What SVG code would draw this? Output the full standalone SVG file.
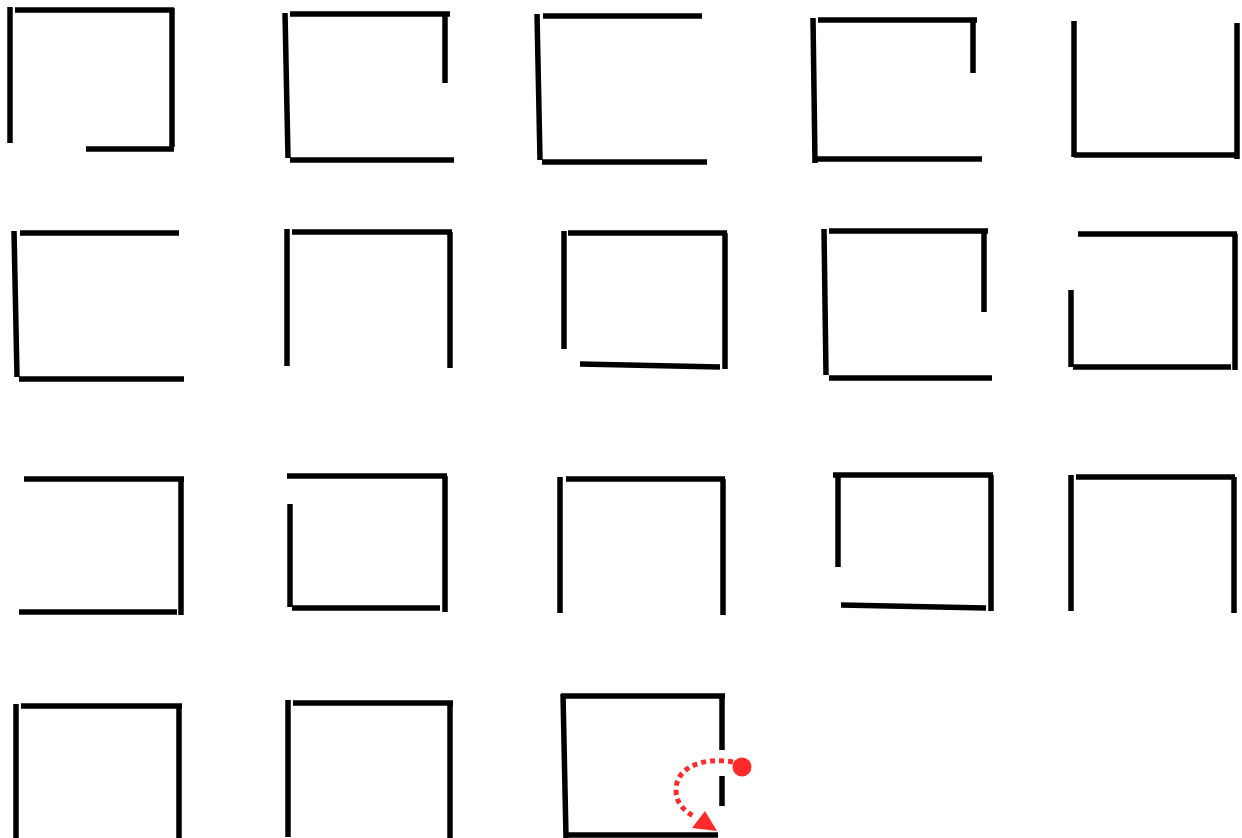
<svg xmlns="http://www.w3.org/2000/svg" width="1242" height="838" viewBox="0 0 1242 838">
<style>
line{stroke:#000;stroke-width:5.5;stroke-linecap:butt}
.red{fill:#ff2b2b}
.dash{fill:none;stroke:#ff2b2b;stroke-width:5;stroke-dasharray:5 4}
</style>
<rect width="1242" height="838" fill="#fff"/>
<g id="sq1"><line x1="10" y1="7" x2="10" y2="143"/><line x1="15" y1="10" x2="174" y2="10"/><line x1="172" y1="8" x2="172" y2="147"/><line x1="86" y1="149" x2="174" y2="149"/></g>
<g id="sq2"><line x1="285" y1="13" x2="288" y2="158"/><line x1="290" y1="14" x2="450" y2="14"/><line x1="445" y1="14" x2="445" y2="83"/><line x1="290" y1="160" x2="454" y2="160"/></g>
<g id="sq3"><line x1="537" y1="14" x2="540" y2="160"/><line x1="543" y1="16" x2="702" y2="16"/><line x1="542" y1="162" x2="707" y2="162"/></g>
<g id="sq4"><line x1="813" y1="18" x2="815" y2="163"/><line x1="818" y1="20" x2="977" y2="20"/><line x1="973" y1="20" x2="973" y2="73"/><line x1="816" y1="159" x2="982" y2="159"/></g>
<g id="sq5"><line x1="1074" y1="21" x2="1074" y2="157"/><line x1="1074" y1="155" x2="1237" y2="155"/><line x1="1237" y1="23" x2="1237" y2="159"/></g>
<g id="sq6"><line x1="14" y1="231" x2="17" y2="377"/><line x1="20" y1="233" x2="179" y2="233"/><line x1="19" y1="379" x2="184" y2="379"/></g>
<g id="sq7"><line x1="287" y1="229" x2="287" y2="366"/><line x1="292" y1="232" x2="452" y2="232"/><line x1="450" y1="232" x2="450" y2="368"/></g>
<g id="sq8"><line x1="564" y1="231" x2="564" y2="349"/><line x1="568" y1="233" x2="727" y2="233"/><line x1="725" y1="233" x2="725" y2="369"/><line x1="580" y1="364" x2="720" y2="367"/></g>
<g id="sq9"><line x1="824" y1="229" x2="826" y2="375"/><line x1="829" y1="231" x2="988" y2="231"/><line x1="984" y1="231" x2="984" y2="312"/><line x1="829" y1="378" x2="992" y2="378"/></g>
<g id="sq10"><line x1="1078" y1="234" x2="1237" y2="234"/><line x1="1235" y1="234" x2="1235" y2="370"/><line x1="1071" y1="290" x2="1071" y2="367"/><line x1="1073" y1="367" x2="1231" y2="367"/></g>
<g id="sq11"><line x1="24" y1="479" x2="184" y2="479"/><line x1="181" y1="479" x2="181" y2="615"/><line x1="19" y1="612" x2="177" y2="612"/></g>
<g id="sq12"><line x1="287" y1="476" x2="447" y2="476"/><line x1="445" y1="476" x2="445" y2="612"/><line x1="290" y1="504" x2="290" y2="607"/><line x1="292" y1="608" x2="440" y2="608"/></g>
<g id="sq13"><line x1="560" y1="477" x2="560" y2="613"/><line x1="566" y1="479" x2="725" y2="479"/><line x1="723" y1="479" x2="723" y2="615"/></g>
<g id="sq14"><line x1="833" y1="475" x2="993" y2="475"/><line x1="838" y1="475" x2="838" y2="567"/><line x1="991" y1="475" x2="991" y2="611"/><line x1="841" y1="605" x2="986" y2="608"/></g>
<g id="sq15"><line x1="1071" y1="475" x2="1071" y2="611"/><line x1="1076" y1="477" x2="1235" y2="477"/><line x1="1234" y1="477" x2="1234" y2="613"/></g>
<g id="sq16"><line x1="16" y1="704" x2="16" y2="838"/><line x1="21" y1="706" x2="182" y2="706"/><line x1="179" y1="706" x2="179" y2="838"/></g>
<g id="sq17"><line x1="288" y1="700" x2="288" y2="837"/><line x1="293" y1="703" x2="453" y2="703"/><line x1="450" y1="703" x2="450" y2="838"/></g>
<g id="sq18"><line x1="561" y1="696" x2="725" y2="696"/><line x1="563" y1="694" x2="566" y2="838"/><line x1="722" y1="696" x2="722" y2="750"/><line x1="722" y1="776" x2="722" y2="806"/><line x1="566" y1="835" x2="718" y2="835"/></g>
<g id="connectors">
<circle class="red" cx="742" cy="767" r="9.5"/>
<path class="dash" d="M733 762 C705 757 676 766 676 790 C676 803 684 811 695 817"/>
<polygon class="red" points="692,828 705,811 717,831"/>
</g>
</svg>
